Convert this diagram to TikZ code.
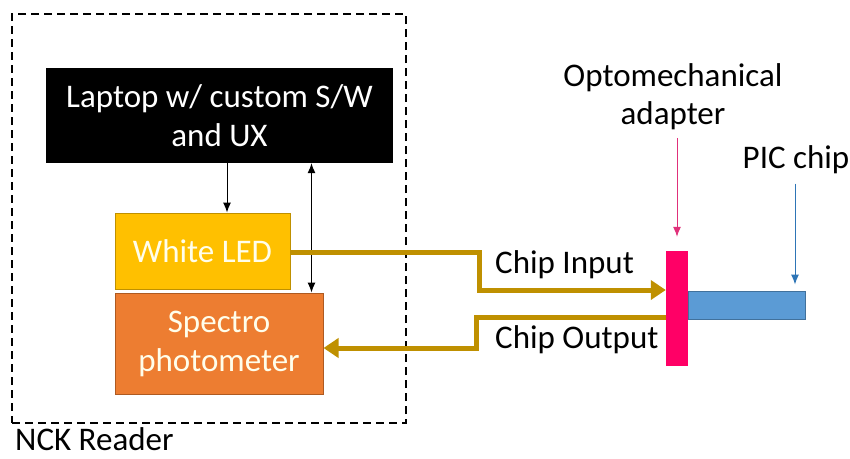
\documentclass[tikz,border=0pt]{standalone}
\usepackage{fontspec}
\setmainfont{Carlito}
\usetikzlibrary{arrows.meta}
\definecolor{ledfill}{HTML}{FFC000}
\definecolor{ledline}{HTML}{BF9000}
\definecolor{specfill}{HTML}{ED7D31}
\definecolor{specline}{HTML}{AE5A21}
\definecolor{goldline}{HTML}{BF9000}
\definecolor{pinkbar}{HTML}{FF0066}
\definecolor{pinkarrow}{HTML}{E0307A}
\definecolor{chipfill}{HTML}{5B9BD5}
\definecolor{chipline}{HTML}{41719C}
\definecolor{bluearrow}{HTML}{2E75B6}
\tikzset{
  box/.style={inner sep=0pt, align=center, font=\fontsize{33}{39}\selectfont},
  lbl/.style={inner sep=0pt, align=center, font=\fontsize{33}{38}\selectfont},
  thin arrow/.style={line width=1pt, -{Latex[length=10pt,width=8pt]}},
  thin darrow/.style={line width=1pt, {Latex[length=10pt,width=8pt]}-{Latex[length=10pt,width=8pt]}},
  beam/.style={goldline, line width=5pt, -{Triangle[length=15pt,width=19pt]}},
}
\begin{document}
\begin{tikzpicture}[x=1pt,y=-1pt]
\useasboundingbox (0,0) rectangle (850,458);
% frame
\node[draw, line width=1.5pt, dash pattern=on 8pt off 5pt, minimum width=394pt, minimum height=409pt, inner sep=0pt] (reader) at (209,218.5) {};
\node[lbl, anchor=base west] (readerlbl) at (15,450) {NCK Reader};
% boxes
\node[box, fill=black, text=white, minimum width=347pt, minimum height=95pt] (laptop) at (219.5,115.5) {Laptop w/ custom S/W\\and UX};
\node[box, fill=ledfill, draw=ledline, line width=1pt, text=white!92!yellow, minimum width=175pt, minimum height=76pt] (led) at (202.5,251) {White LED};
\node[box, fill=specfill, draw=specline, line width=1pt, text=white!92!yellow, minimum width=208pt, minimum height=101pt] (spec) at (219,343.5) {Spectro\\photometer};
\node[fill=pinkbar, minimum width=22pt, minimum height=115pt, inner sep=0pt] (bar) at (677,308.5) {};
\node[fill=chipfill, draw=chipline, line width=1pt, minimum width=117pt, minimum height=28pt, inner sep=0pt] (chip) at (747,305) {};
% labels
\node[lbl] (opto) at (673,97) {Optomechanical\\adapter};
\node[lbl, anchor=base] (pic) at (796,168) {PIC chip};
\node[lbl, anchor=base west] (cin) at (495,273) {Chip Input};
\node[lbl, anchor=base west] (cout) at (495,348) {Chip Output};
% control arrows
\coordinate (a1) at ([xshift=24.5pt]led.north);
\draw[thin arrow] (a1 |- laptop.south) -- (a1);
\coordinate (a2) at ([xshift=-12pt]spec.north east);
\draw[thin darrow] (a2 |- laptop.south) -- (a2);
% beams
\draw[beam] ([yshift=-1pt]led.east) -- ++(189,0) |- ([yshift=18.5pt]bar.west);
\draw[beam] ([yshift=-8.5pt]bar.west) -- ++(-189,0) |- ([yshift=-4.5pt]spec.east);
% pointer arrows
\coordinate (p1) at ([yshift=14pt]bar.north);
\draw[pinkarrow, line width=1pt, -{Latex[length=10pt,width=8pt]}] ([yshift=99pt]p1) -- (p1);
\coordinate (p2) at ([xshift=48pt,yshift=6pt]chip.north);
\draw[bluearrow, line width=1pt, -{Latex[length=10pt,width=8pt]}] ([yshift=-10pt]pic.south -| p2) -- (p2);
\end{tikzpicture}
\end{document}
